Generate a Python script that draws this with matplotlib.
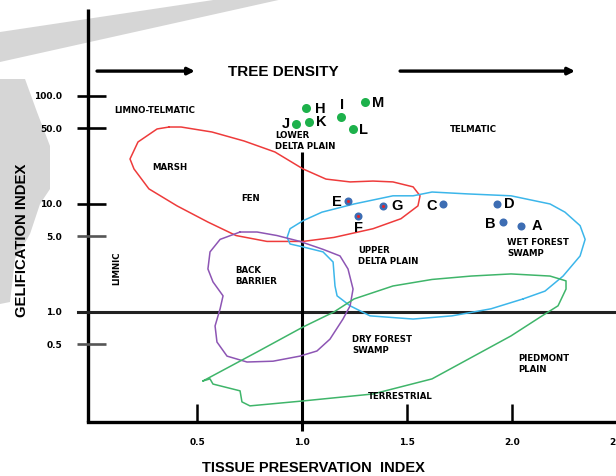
import matplotlib
matplotlib.use('Agg')
import matplotlib.pyplot as plt
from matplotlib.patches import Polygon

SANS = ['Liberation Sans', 'DejaVu Sans']

# 样点：组织保存指数 TPI、凝胶化指数 GI
point_names = ['H', 'J', 'K', 'I', 'M', 'L', 'E', 'G', 'F', 'C', 'D', 'B', 'A']
point_tpi = [1.019, 0.971, 1.033, 1.186, 1.300, 1.243, 1.219, 1.386, 1.267, 1.671, 1.929, 1.957, 2.043]
point_gi = [77.4, 55.1, 57.4, 63.9, 88.0, 49.5, 10.7, 9.6, 7.7, 10.0, 10.0, 6.8, 6.3]
point_group = ['green'] * 6 + ['blue'] * 7
point_red_core = ['E', 'G', 'F']
# 标签相对样点的偏移（像素）
label_offset = {'H': (14, 0), 'J': (-10, 1), 'K': (12, 1), 'I': (1, 13), 'M': (13, 0),
                'L': (10, 0), 'E': (-11, 0), 'G': (14, 1), 'F': (0, -11), 'C': (-11, -1),
                'D': (12, 1), 'B': (-13, -1), 'A': (16, 1)}

# 沉积环境区域轮廓
marsh_tpi = [0.367, 0.424, 0.571, 0.724, 0.871, 1.005, 1.114, 1.229, 1.338, 1.433, 1.529, 1.562,
             1.552, 1.471, 1.338, 1.152, 1.005, 0.833, 0.686, 0.552, 0.405, 0.271, 0.200, 0.181,
             0.219, 0.310]
marsh_gi = [51.6, 51.6, 46.4, 38.3, 30.3, 21.1, 17.0, 16.0, 16.3, 16.0, 14.4, 11.9,
            9.6, 7.3, 5.9, 4.9, 4.5, 4.5, 5.1, 6.8, 9.6, 13.8, 21.1, 26.1,
            37.5, 49.5]

swamp_tpi = [2.052, 2.157, 2.243, 2.324, 2.348, 2.324, 2.252, 2.181, 1.995, 1.786, 1.619, 1.529,
             1.433, 1.248, 1.095, 1.005, 0.943, 0.929, 0.943, 1.005, 1.100, 1.148, 1.157, 1.167,
             1.229, 1.324, 1.529, 1.714, 1.900]
swamp_gi = [1.32, 1.56, 2.15, 3.3, 4.7, 6.3, 8.4, 10.0, 11.9, 12.4, 12.9, 11.9,
            11.9, 10.0, 8.4, 7.0, 5.9, 4.9, 4.26, 4.0, 3.6, 2.9, 1.74, 1.41,
            1.14, 0.92, 0.86, 0.92, 1.07]

barrier_tpi = [0.705, 0.786, 0.881, 0.990, 1.100, 1.181, 1.219, 1.243, 1.229, 1.195, 1.133, 1.071,
               0.990, 0.862, 0.738, 0.643, 0.595, 0.586, 0.610, 0.624, 0.576, 0.552, 0.562, 0.610]
barrier_gi = [5.5, 5.5, 5.1, 4.5, 3.8, 3.3, 2.5, 1.63, 1.14, 0.86, 0.56, 0.435,
              0.39, 0.35, 0.344, 0.39, 0.527, 0.742, 1.07, 1.41, 1.9, 2.5, 3.6, 4.7]

dry_tpi = [0.529, 0.562, 0.576, 0.705, 0.714, 0.752, 1.005, 1.338, 1.619, 1.995, 2.143, 2.219,
           2.257, 2.257, 2.181, 1.995, 1.805, 1.619, 1.433, 1.248, 1.152, 1.005, 0.786]
dry_gi = [0.23, 0.24, 0.215, 0.186, 0.147, 0.135, 0.150, 0.174, 0.24, 0.60, 0.92, 1.14,
          1.63, 1.94, 2.15, 2.25, 2.15, 2.0, 1.74, 1.32, 1.0, 0.726, 0.426]

# 区域名称
zone_text = ['LIMNO-TELMATIC', 'TELMATIC', 'MARSH', 'FEN', 'LOWER\nDELTA PLAIN', 'LIMNIC',
             'BACK\nBARRIER', 'UPPER\nDELTA PLAIN', 'WET FOREST\nSWAMP', 'DRY FOREST\nSWAMP',
             'PIEDMONT\nPLAIN', 'TERRESTRIAL']
zone_tpi = [0.300, 1.814, 0.371, 0.757, 0.871, 0.119, 0.681, 1.267, 1.976, 1.238, 2.029, 1.467]
zone_gi = [74.2, 49.5, 22.0, 11.6, 39.2, 2.6, 2.2, 3.37, 4.0, 0.506, 0.337, 0.167]
zone_ha = ['center', 'center', 'center', 'center', 'left', 'center',
           'left', 'left', 'left', 'left', 'left', 'center']

gi_ticks = [100.0, 50.0, 10.0, 5.0, 0.5]
gi_tick_labels = ['100.0', '50.0', '10.0', '5.0', '1.0', '0.5']
gi_label_values = [100.0, 50.0, 10.0, 5.0, 1.0, 0.5]
tpi_ticks = [0.5, 1.5, 2.0]
tpi_tick_labels = ['0.5', '1.0', '1.5', '2.0', '2.5']
tpi_label_values = [0.5, 1.0, 1.5, 2.0, 2.5]

fig = plt.figure(figsize=(6.16, 4.77), dpi=100)

# 背景上的浅灰色水印
band_a = [(0, 33), (220, 0), (283, 0), (0, 63)]
band_b = [(0, 80), (25, 80), (37, 113), (50, 147), (50, 190), (40, 205), (30, 235),
          (15, 260), (10, 303), (0, 305)]
for band in (band_a, band_b):
    fig.add_artist(Polygon([(x / 616, 1 - y / 477) for x, y in band], closed=True,
                           facecolor='#d6d6d6', edgecolor='none', transform=fig.transFigure,
                           zorder=0))

ax = fig.add_axes([0, 0, 1, 1])
ax.set_xlim(-0.438, 2.495)
ax.set_yscale('log')
ax.set_ylim(10 ** -1.519, 10 ** 2.898)
ax.axis('off')
ax.patch.set_alpha(0)

# 坐标轴与分界线
ax.plot([-0.019, -0.019], [0.0958, 640], color='black', lw=2.4, solid_capstyle='butt')
ax.plot([-0.019, 2.495], [0.0958, 0.0958], color='black', lw=2.4)
ax.plot([-0.067, 2.495], [1.0, 1.0], color='#222222', lw=2.2)
ax.plot([1.0, 1.0], [30.3, 0.079], color='black', lw=2.2, solid_capstyle='butt')
for v in gi_ticks:
    c = '#555555' if v in (5.0, 0.5) else 'black'
    ax.plot([-0.071, 0.067], [v, v], color=c, lw=1.9, solid_capstyle='butt')
for v in tpi_ticks:
    ax.plot([v, v], [0.0958, 0.141], color='black', lw=1.8, solid_capstyle='butt')

for lab, v in zip(gi_tick_labels, gi_label_values):
    ax.text(-0.143, v, lab, ha='right', va='center', fontsize=6.5, fontweight='bold')
for lab, v in zip(tpi_tick_labels, tpi_label_values):
    ax.text(v, 0.0626, lab, ha='center', va='center', fontsize=6.5, fontweight='bold')

# 区域轮廓
for xs, ys, col in [(marsh_tpi, marsh_gi, '#ee3b3b'), (swamp_tpi, swamp_gi, '#3cb6ea'),
                    (barrier_tpi, barrier_gi, '#8d55b4'), (dry_tpi, dry_gi, '#3fb56a')]:
    ax.plot(xs + xs[:1], ys + ys[:1], color=col, lw=1.1, solid_joinstyle='round')

for t, x, y, ha in zip(zone_text, zone_tpi, zone_gi, zone_ha):
    rot = 90 if t == 'LIMNIC' else 0
    ax.text(x, y, t, ha=ha, va='center', fontsize=6.2, fontweight='heavy',
            rotation=rot, linespacing=1.3)

# 样点
for name, x, y, grp in zip(point_names, point_tpi, point_gi, point_group):
    if grp == 'green':
        ax.plot(x, y, 'o', color='#1db14b', ms=6.5, mec='none')
    else:
        ax.plot(x, y, 'o', color='#3d6db3', ms=5.8, mec='none')
        if name in point_red_core:
            ax.plot(x, y, 'o', color='#e3242b', ms=2.2, mec='none')
    dx, dy = label_offset[name]
    ax.annotate(name, (x, y), xytext=(dx, dy), textcoords='offset pixels',
                ha='center', va='center', fontsize=10.5, fontweight='bold', family=SANS)

# 顶部：树木密度方向
ax.annotate('', xy=(0.49, 170), xytext=(0.024, 170),
            arrowprops=dict(arrowstyle='-|>', lw=2.4, color='black', mutation_scale=10,
                            shrinkA=0, shrinkB=0))
ax.annotate('', xy=(2.30, 170), xytext=(1.467, 170),
            arrowprops=dict(arrowstyle='-|>', lw=2.4, color='black', mutation_scale=10,
                            shrinkA=0, shrinkB=0))
fig.text(283 / 616, 1 - 72 / 477, 'TREE DENSITY', ha='center', va='center', fontsize=11,
         fontweight='bold', family=SANS)

fig.text(22 / 616, 1 - 240 / 477, 'GELIFICATION INDEX', ha='center', va='center',
         rotation=90, fontsize=10.7, fontweight='bold', family=SANS)
fig.text(313 / 616, 1 - 468 / 477, 'TISSUE PRESERVATION  INDEX', ha='center', va='center',
         fontsize=10.5, fontweight='bold', family=SANS)

fig.savefig('out.png', dpi=100)
